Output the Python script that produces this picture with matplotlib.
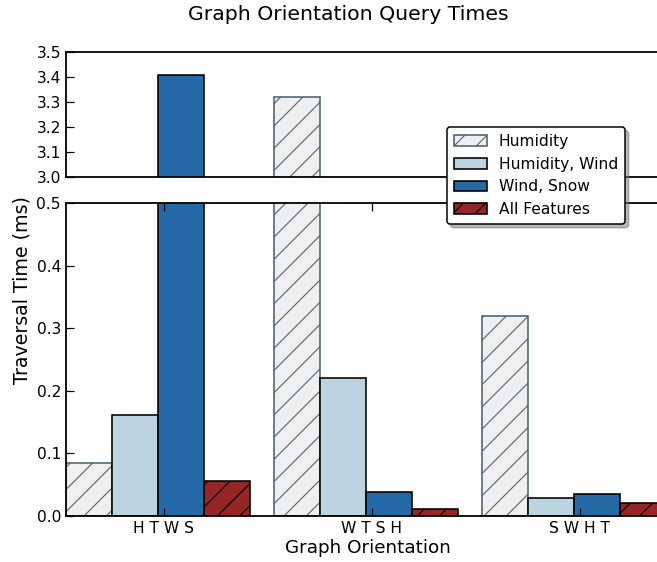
import numpy as np
import matplotlib
matplotlib.use("Agg")
import matplotlib.pyplot as plt

# --- data (ms) ---
orientations = ["H T W S", "W T S H", "S W H T"]
series = ["Humidity", "Humidity, Wind", "Wind, Snow", "All Features"]
humidity = [0.084, 3.32, 0.32]
humidity_wind = [0.162, 0.22, 0.029]
wind_snow = [3.41, 0.038, 0.035]
all_features = [0.056, 0.011, 0.021]

faces = ["#efefef", "#bcd4df", "#2469a5", "#962626"]
edges = ["#4d6272", "black", "black", "black"]
hatches = ["///", None, None, "///"]

DPI = 200
PX = 72.0 / DPI  # one pixel in points

plt.rcParams["hatch.linewidth"] = 1.1 * PX
plt.rcParams["font.family"] = "DejaVu Sans"

W, H = 657, 562
fig = plt.figure(figsize=(W / DPI, H / DPI), dpi=DPI)

left = 66 / W
right = (657 + 3) / W
ax_top = fig.add_axes([left, 1 - 177 / H, right - left, 125 / H])
ax_bot = fig.add_axes([left, 1 - 516 / H, right - left, 313 / H])

ind = np.arange(len(orientations))
width = 0.221
values = [humidity, humidity_wind, wind_snow, all_features]

for ax in (ax_top, ax_bot):
    for k, vals in enumerate(values):
        ax.bar(ind + k * width, vals, width, align="edge",
               color=faces[k], edgecolor=edges[k], hatch=hatches[k],
               linewidth=1.6 * PX, label=series[k])
    ax.set_xlim(0, (657 + 3 - 66) / 208.0)
    for sp in ax.spines.values():
        sp.set_linewidth(1.8 * PX)
    ax.tick_params(direction="in", length=8 * PX, width=1.2 * PX,
                   labelsize=15.5 * PX, pad=5 * PX, right=False, top=True)

ax_top.set_ylim(3.0, 3.5)
ax_top.set_yticks([3.0, 3.1, 3.2, 3.3, 3.4, 3.5])
ax_top.set_xticks([])

ax_bot.set_ylim(0, 0.5)
ax_bot.set_yticks([0.0, 0.1, 0.2, 0.3, 0.4, 0.5])
ax_bot.set_xticks(ind + 0.471)
ax_bot.set_xticklabels(orientations)

fig.text(348 / W, 1 - 15 / H, "Graph Orientation Query Times",
         ha="center", va="center", fontsize=20.4 * PX)
fig.text(368 / W, 1 - 548 / H, "Graph Orientation",
         ha="center", va="center", fontsize=18.4 * PX)
fig.text(22 / W, 1 - 290 / H, "Traversal Time (ms)",
         ha="center", va="center", rotation=90, fontsize=19 * PX)

handles, labels = ax_bot.get_legend_handles_labels()
leg = fig.legend(handles, labels, loc="upper left",
                 bbox_to_anchor=(447 / W, 1 - 127 / H),
                 fontsize=15.5 * PX, fancybox=True,
                 shadow={"ox": 3.5 * PX, "oy": -3.5 * PX, "shade": 0.55},
                 borderaxespad=0, handlelength=2.1, handleheight=0.7,
                 labelspacing=0.5, borderpad=0.45, handletextpad=0.8,
                 framealpha=1)
leg.get_frame().set_edgecolor("black")
leg.get_frame().set_linewidth(1.5 * PX)

fig.savefig("out.png", dpi=DPI)
